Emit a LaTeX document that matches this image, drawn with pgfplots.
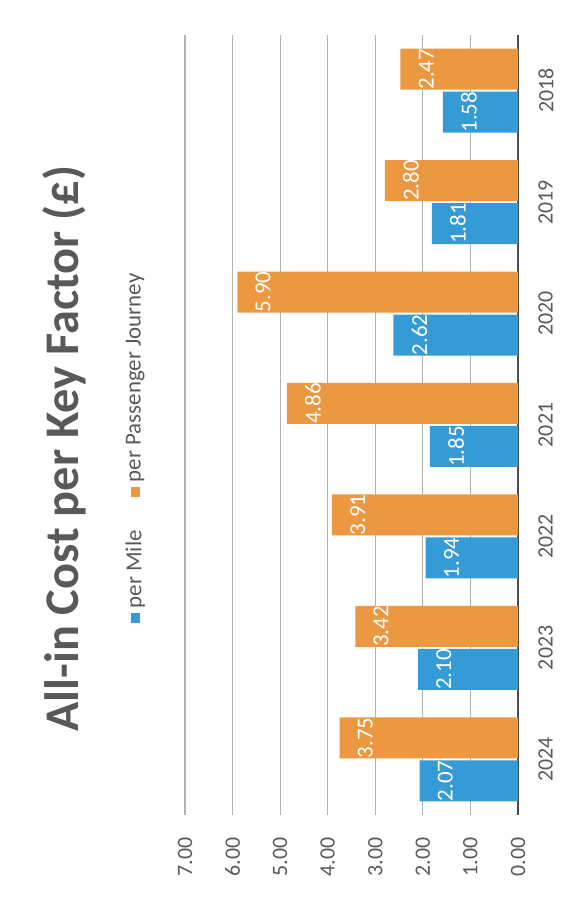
\documentclass[border=0pt]{standalone}
\usepackage{fontspec}
\setmainfont{Carlito}
\usepackage{pgfplots}
\pgfplotsset{compat=1.18}
\definecolor{mileblue}{RGB}{52,155,215}
\definecolor{journeyorange}{RGB}{235,152,65}
\definecolor{txtgray}{RGB}{89,89,89}
\newcommand{\swatch}[1]{\textcolor{#1}{\rule[1bp]{10bp}{9bp}}\hspace{5bp}}
\begin{document}
\begin{tikzpicture}
\path[use as bounding box] (0,0) rectangle (570bp,903bp);
\begin{axis}[
    at={(185bp,88bp)}, anchor=south west,
    scale only axis,
    width=333bp, height=780bp,
    xbar,
    bar width=41bp,
    xmin=0, xmax=7, x dir=reverse,
    ymin=-0.5, ymax=6.5,
    xtick={0,...,7},
    ytick={0,...,6},
    yticklabels={2024,2023,2022,2021,2020,2019,2018},
    yticklabel pos=right,
    /pgf/number format/assume math mode=true,
    x tick label style={/pgf/number format/fixed, /pgf/number format/zerofill, /pgf/number format/precision=2, rotate=90, anchor=east},
    y tick label style={rotate=90, anchor=north},
    tick label style={font=\fontsize{22}{24}\selectfont, text=txtgray},
    xticklabel shift=19bp,
    yticklabel shift=17bp,
    major tick length=0pt,
    axis line style={draw=none},
    xmajorgrids,
    grid style={draw=gray!60, line width=1.2bp},
    extra x ticks={0},
    extra x tick labels={},
    extra x tick style={grid style={draw=black!70, line width=2.5bp}},
    title={All-in Cost per Key Factor (£)},
    title style={rotate=90, at={(-0.321,0.462)}, anchor=base, font=\bfseries\fontsize{48.5}{52}\selectfont, text=txtgray},
    legend columns=1,
    reverse legend,
    legend style={at={(-0.153,0.470)}, anchor=center, draw=none, fill=none,
        font=\fontsize{23}{26}\selectfont, text=txtgray,
        nodes={rotate=90, inner sep=0pt}, row sep=33bp, column sep=0pt},
    legend image code/.code={},
    nodes near coords={\pgfmathprintnumber[fixed,zerofill,precision=2]{\pgfplotspointmeta}},
    every node near coord/.append style={rotate=90, anchor=north, text=white,
        font=\fontsize{23}{26}\selectfont, inner xsep=0pt, inner ysep=18bp},
]
\addplot[fill=mileblue, draw=none, bar shift=-21.5bp] coordinates {
    (2.07,0) (2.10,1) (1.94,2) (1.85,3) (2.62,4) (1.81,5) (1.58,6)};
\addplot[fill=journeyorange, draw=none, bar shift=21.5bp] coordinates {
    (3.75,0) (3.42,1) (3.91,2) (4.86,3) (5.90,4) (2.80,5) (2.47,6)};
\legend{\swatch{mileblue}per Mile, \swatch{journeyorange}per Passenger Journey}
\end{axis}
\end{tikzpicture}
\end{document}
